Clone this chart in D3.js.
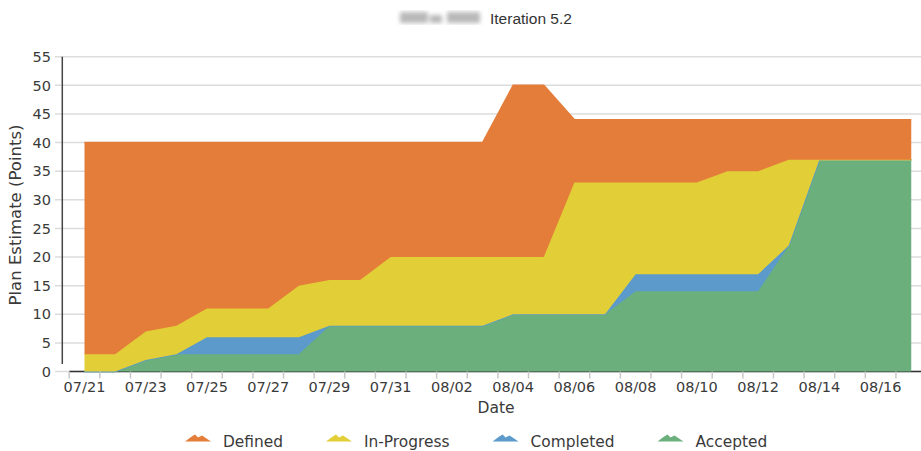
<!DOCTYPE html>
<html lang="en">
<head>
    <meta charset="UTF-8" />
    <title>Iteration Burnup</title>
    <style>
        body { margin: 0; background: #fff; }
        .tick-label, .axis-title, .legend-label {
            font-family: "DejaVu Sans", sans-serif;
            font-size: 14.5px;
            fill: #3a3a3a;
        }
        .axis-title { font-size: 15.5px; }
        .axis-title.y-title { font-size: 16.5px; }
        .legend-label { font-size: 15.4px; }
        .subtitle {
            font-family: "Liberation Sans", Arial, sans-serif;
            font-size: 15.5px;
            fill: #333;
        }
        .grid { stroke: #dcdcdc; stroke-width: 1.5px; }
    </style>
</head>
<body>
    <div id="chart"></div>

    <script src="https://d3js.org/d3.v7.min.js"></script>
    <script>
        const days = ['07/21', '07/22', '07/23', '07/24', '07/25', '07/26', '07/27', '07/28', '07/29', '07/30',
            '07/31', '08/01', '08/02', '08/03', '08/04', '08/05', '08/06', '08/07', '08/08', '08/09',
            '08/10', '08/11', '08/12', '08/13', '08/14', '08/15', '08/16', '08/17'];

        const accepted   = [0, 0, 2, 3, 3, 3, 3, 3, 8, 8, 8, 8, 8, 8, 10, 10, 10, 10, 14, 14, 14, 14, 14, 22, 37, 37, 37, 37];
        const completed  = [0, 0, 0, 0, 3, 3, 3, 3, 0, 0, 0, 0, 0, 0, 0, 0, 0, 0, 3, 3, 3, 3, 3, 0, 0, 0, 0, 0];
        const inProgress = [3, 3, 5, 5, 5, 5, 5, 9, 8, 8, 12, 12, 12, 12, 10, 10, 23, 23, 16, 16, 16, 18, 18, 15, 0, 0, 0, 0];
        const defined    = [37, 37, 33, 32, 29, 29, 29, 25, 24, 24, 20, 20, 20, 20, 30, 30, 11, 11, 11, 11, 11, 9, 9, 7, 7, 7, 7, 7];

        const yTicks = [0, 5, 10, 15, 20, 25, 30, 35, 40, 45, 50, 55];

        // stacked bottom-up, legend shows top-down
        const series = [
            { name: 'Accepted', values: accepted, color: '#6aaf7c' },
            { name: 'Completed', values: completed, color: '#5b9aca' },
            { name: 'In-Progress', values: inProgress, color: '#e2cf37' },
            { name: 'Defined', values: defined, color: '#e47d3a' }
        ];

        const width = 921, height = 451;
        const svg = d3.select('#chart').append('svg')
            .attr('width', width)
            .attr('height', height);

        const x = d3.scaleBand().domain(days).range([69.2, 69.2 + days.length * 30.62]);
        const y = d3.scaleLinear().domain([0, 55]).range([371.5, 56.7]);
        const cx = d => x(d) + x.bandwidth() / 2;

        // subtitle (project name is blurred out in the original)
        const blur = svg.append('defs').append('filter').attr('id', 'blur');
        blur.append('feGaussianBlur').attr('stdDeviation', 2.2);
        const redact = svg.append('g').attr('filter', 'url(#blur)').attr('fill', '#b9b9b9');
        redact.append('rect').attr('x', 400).attr('y', 12).attr('width', 28).attr('height', 11);
        redact.append('rect').attr('x', 430).attr('y', 15).attr('width', 12).attr('height', 8);
        redact.append('rect').attr('x', 447).attr('y', 12).attr('width', 33).attr('height', 11);

        svg.append('text')
            .attr('class', 'subtitle')
            .attr('x', 490)
            .attr('y', 23.5)
            .text('Iteration 5.2');

        // gridlines
        svg.append('g')
            .selectAll('line')
            .data(yTicks)
            .enter().append('line')
            .attr('class', 'grid')
            .attr('x1', 55)
            .attr('x2', width)
            .attr('y1', d => y(d))
            .attr('y2', d => y(d));

        // x axis base line (sits beneath the areas)
        svg.append('line')
            .attr('x1', x.range()[0])
            .attr('x2', width)
            .attr('y1', y(0))
            .attr('y2', y(0))
            .attr('stroke', '#333')
            .attr('stroke-width', 1.5);

        // stacked areas
        let base = days.map(() => 0);
        series.forEach(s => {
            const pts = days.map((d, i) => ({ d, y0: base[i], y1: base[i] + s.values[i] }));
            base = pts.map(p => p.y1);

            svg.append('path')
                .datum(pts)
                .attr('fill', s.color)
                .attr('d', d3.area()
                    .x(p => cx(p.d))
                    .y0(p => y(p.y0))
                    .y1(p => y(p.y1)));

            svg.append('path')
                .datum(pts)
                .attr('fill', 'none')
                .attr('stroke', s.color)
                .attr('stroke-width', 1.5)
                .attr('d', d3.line()
                    .x(p => cx(p.d))
                    .y(p => y(p.y1)));
        });

        // y axis line
        svg.append('line')
            .attr('x1', 62.3)
            .attr('x2', 62.3)
            .attr('y1', y(55))
            .attr('y2', y(1.3))
            .attr('stroke', '#444')
            .attr('stroke-width', 1.5);

        // y tick labels
        svg.append('g')
            .selectAll('text')
            .data(yTicks)
            .enter().append('text')
            .attr('class', 'tick-label')
            .attr('x', 51)
            .attr('y', d => y(d))
            .attr('dy', '0.36em')
            .attr('text-anchor', 'end')
            .text(d => d);

        // x tick marks between categories
        const edges = days.map(d => x(d)).concat([x.range()[1]]);
        svg.append('g')
            .selectAll('line')
            .data(edges)
            .enter().append('line')
            .attr('x1', d => d)
            .attr('x2', d => d)
            .attr('y1', y(0))
            .attr('y2', y(0) + 7)
            .attr('stroke', '#c8c8c8')
            .attr('stroke-width', 1.5);

        svg.append('g')
            .selectAll('text')
            .data(days.filter((d, i) => i % 2 === 0))
            .enter().append('text')
            .attr('class', 'tick-label')
            .attr('x', d => cx(d))
            .attr('y', 392)
            .attr('text-anchor', 'middle')
            .text(d => d);

        svg.append('text')
            .attr('class', 'axis-title')
            .attr('x', 496)
            .attr('y', 413)
            .attr('text-anchor', 'middle')
            .text('Date');

        svg.append('text')
            .attr('class', 'axis-title y-title')
            .attr('transform', 'translate(21,215) rotate(-90)')
            .attr('text-anchor', 'middle')
            .text('Plan Estimate (Points)');

        // legend
        const legendItems = series.slice().reverse();
        const legend = svg.append('g');
        let lx = 185;
        legendItems.forEach(s => {
            const g = legend.append('g').attr('transform', `translate(${lx},441)`);
            g.append('path')
                .attr('d', 'M0,0.5 L6,-4 L10,-6.5 L13,-3.5 L17,-5.5 L26,0.5 Z')
                .attr('fill', s.color);
            const t = g.append('text')
                .attr('class', 'legend-label')
                .attr('x', 38)
                .attr('y', 5.5)
                .text(s.name);
            lx += 38 + t.node().getComputedTextLength() + 43;
        });
    </script>
</body>
</html>
